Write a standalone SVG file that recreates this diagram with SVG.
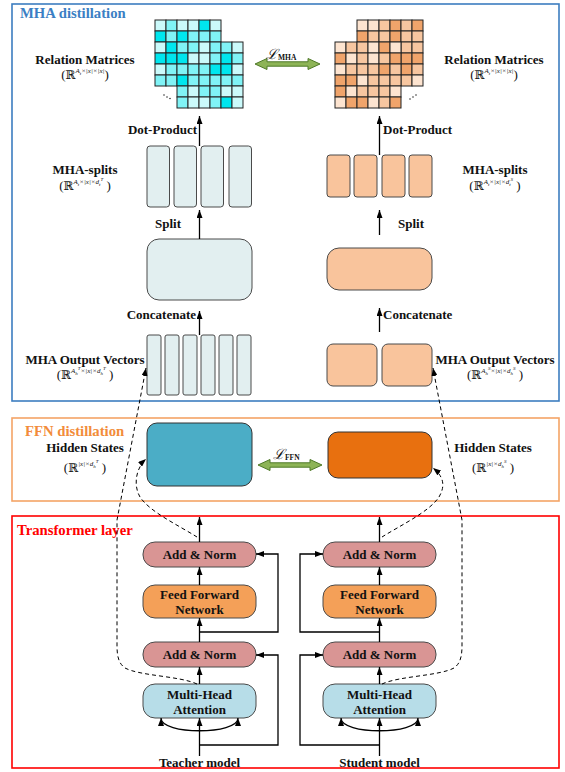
<svg xmlns="http://www.w3.org/2000/svg" width="565" height="772" viewBox="0 0 565 772">
<style>
.t{font-family:"Liberation Serif","Times New Roman",serif;font-weight:bold;font-size:13px;fill:#111}
.c{text-anchor:middle}
.title{font-family:"Liberation Serif","Times New Roman",serif;font-weight:bold;font-size:14.7px}
.m{font-family:"Liberation Serif","DejaVu Serif",serif;font-size:13px;fill:#111;text-anchor:middle}
.bb{font-family:"DejaVu Serif",serif;font-size:12px}
.sp{font-size:7px;font-style:italic}
.sb{font-size:5px;font-style:italic}
.ln{fill:none;stroke:#000;stroke-width:1.3}
.ar{marker-end:url(#ah)}
.dash{fill:none;stroke:#000;stroke-width:1;stroke-dasharray:4,3;marker-end:url(#ah)}
.tc{fill:#e2eff0;stroke:#4a4a4a;stroke-width:1}
.sc{fill:#f9c49c;stroke:#4a4a4a;stroke-width:1}
.an{fill:#d99594;stroke:#4a4a4a;stroke-width:1}
.ff{fill:#f4a058;stroke:#4a4a4a;stroke-width:1}
.mh{fill:#b7dde8;stroke:#4a4a4a;stroke-width:1}
.B{fill:#00e6ee}.M{fill:#80f3f6}.L{fill:#cbfafb}
.D{fill:#f0a46b}.N{fill:#f7c6a0}.P{fill:#fde4d0}
.grid rect{stroke:#222;stroke-width:1}
.loss{fill:#8db456;stroke:#4f7a28;stroke-width:1}
.lt{font-family:"DejaVu Serif",serif;font-style:italic;font-size:14px;fill:#111}
.ls{font-family:"Liberation Serif",serif;font-size:7.5px;font-weight:bold;fill:#111}
</style>
<defs>
<marker id="ah" markerUnits="userSpaceOnUse" markerWidth="8" markerHeight="6" refX="8" refY="3" orient="auto-start-reverse">
<path d="M0,0 L8,3 L0,6 z" fill="#000"/>
</marker>
</defs>

<!-- section frames -->
<g id="mha-section">
<rect x="12" y="4" width="547" height="397" fill="none" stroke="#3c7dc0" stroke-width="1.6"/>
<text class="title" x="20" y="18" fill="#3b7fc4">MHA distillation</text>
</g>
<g id="ffn-section">
<rect x="12" y="418" width="547" height="83" fill="none" stroke="#f4a466" stroke-width="1.6"/>
<text class="title" x="25" y="436" fill="#f28c3a">FFN distillation</text>
</g>
<g id="transformer-section">
<rect x="12" y="516" width="547" height="252" fill="none" stroke="#ff0000" stroke-width="1.6"/>
<text class="title" x="17" y="535" fill="#ff0000">Transformer layer</text>
</g>

<!-- teacher relation matrices -->
<g id="teacher-relation" class="grid">
<rect class="L" x="155" y="20" width="11" height="11"/><rect class="M" x="166" y="20" width="11" height="11"/><rect class="L" x="177" y="20" width="11" height="11"/><rect class="L" x="188" y="20" width="11" height="11"/><rect class="B" x="199" y="20" width="11" height="11"/><rect class="L" x="210" y="20" width="11" height="11"/>
<rect class="B" x="155" y="31" width="11" height="11"/><rect class="M" x="166" y="31" width="11" height="11"/><rect class="B" x="177" y="31" width="11" height="11"/><rect class="M" x="188" y="31" width="11" height="11"/><rect class="M" x="199" y="31" width="11" height="11"/><rect class="M" x="210" y="31" width="11" height="11"/>
<rect class="L" x="155" y="42" width="11" height="11"/><rect class="B" x="166" y="42" width="11" height="11"/>
<rect class="B" x="155" y="53" width="11" height="11"/><rect class="B" x="166" y="53" width="11" height="11"/>
<rect class="L" x="155" y="64" width="11" height="11"/><rect class="M" x="166" y="64" width="11" height="11"/>
<rect class="M" x="155" y="75" width="11" height="11"/><rect class="M" x="166" y="75" width="11" height="11"/>
<rect class="M" x="177" y="42" width="11" height="11"/><rect class="M" x="188" y="42" width="11" height="11"/><rect class="L" x="199" y="42" width="11" height="11"/><rect class="M" x="210" y="42" width="11" height="11"/><rect class="M" x="221" y="42" width="11" height="11"/><rect class="L" x="232" y="42" width="11" height="11"/>
<rect class="B" x="177" y="53" width="11" height="11"/><rect class="L" x="188" y="53" width="11" height="11"/><rect class="L" x="199" y="53" width="11" height="11"/><rect class="M" x="210" y="53" width="11" height="11"/><rect class="B" x="221" y="53" width="11" height="11"/><rect class="M" x="232" y="53" width="11" height="11"/>
<rect class="M" x="177" y="64" width="11" height="11"/><rect class="M" x="188" y="64" width="11" height="11"/><rect class="M" x="199" y="64" width="11" height="11"/><rect class="B" x="210" y="64" width="11" height="11"/><rect class="B" x="221" y="64" width="11" height="11"/><rect class="L" x="232" y="64" width="11" height="11"/>
<rect class="B" x="177" y="75" width="11" height="11"/><rect class="M" x="188" y="75" width="11" height="11"/><rect class="M" x="199" y="75" width="11" height="11"/><rect class="M" x="210" y="75" width="11" height="11"/><rect class="M" x="221" y="75" width="11" height="11"/><rect class="M" x="232" y="75" width="11" height="11"/>
<rect class="M" x="177" y="86" width="11" height="11"/><rect class="L" x="188" y="86" width="11" height="11"/><rect class="M" x="199" y="86" width="11" height="11"/><rect class="M" x="210" y="86" width="11" height="11"/><rect class="L" x="221" y="86" width="11" height="11"/><rect class="L" x="232" y="86" width="11" height="11"/>
<rect class="M" x="177" y="97" width="11" height="11"/><rect class="L" x="188" y="97" width="11" height="11"/><rect class="L" x="199" y="97" width="11" height="11"/><rect class="M" x="210" y="97" width="11" height="11"/><rect class="B" x="221" y="97" width="11" height="11"/><rect class="L" x="232" y="97" width="11" height="11"/>
<circle cx="164" cy="95" r="0.8" fill="#333" stroke="none"/><circle cx="167" cy="97" r="0.8" fill="#333" stroke="none"/><circle cx="170" cy="98.5" r="0.8" fill="#333" stroke="none"/>
</g>

<!-- student relation matrices -->
<g id="student-relation" class="grid">
<rect class="P" x="357" y="20" width="11" height="11"/><rect class="P" x="368" y="20" width="11" height="11"/><rect class="N" x="379" y="20" width="11" height="11"/><rect class="D" x="390" y="20" width="11" height="11"/><rect class="N" x="401" y="20" width="11" height="11"/><rect class="D" x="412" y="20" width="11" height="11"/>
<rect class="D" x="357" y="31" width="11" height="11"/><rect class="N" x="368" y="31" width="11" height="11"/><rect class="N" x="379" y="31" width="11" height="11"/><rect class="D" x="390" y="31" width="11" height="11"/><rect class="N" x="401" y="31" width="11" height="11"/><rect class="N" x="412" y="31" width="11" height="11"/>
<rect class="N" x="401" y="42" width="11" height="11"/><rect class="N" x="412" y="42" width="11" height="11"/>
<rect class="D" x="401" y="53" width="11" height="11"/><rect class="D" x="412" y="53" width="11" height="11"/>
<rect class="D" x="401" y="64" width="11" height="11"/><rect class="N" x="412" y="64" width="11" height="11"/>
<rect class="N" x="401" y="75" width="11" height="11"/><rect class="P" x="412" y="75" width="11" height="11"/>
<rect class="P" x="335" y="42" width="11" height="11"/><rect class="N" x="346" y="42" width="11" height="11"/><rect class="N" x="357" y="42" width="11" height="11"/><rect class="P" x="368" y="42" width="11" height="11"/><rect class="D" x="379" y="42" width="11" height="11"/><rect class="P" x="390" y="42" width="11" height="11"/>
<rect class="D" x="335" y="53" width="11" height="11"/><rect class="P" x="346" y="53" width="11" height="11"/><rect class="N" x="357" y="53" width="11" height="11"/><rect class="P" x="368" y="53" width="11" height="11"/><rect class="N" x="379" y="53" width="11" height="11"/><rect class="D" x="390" y="53" width="11" height="11"/>
<rect class="P" x="335" y="64" width="11" height="11"/><rect class="N" x="346" y="64" width="11" height="11"/><rect class="N" x="357" y="64" width="11" height="11"/><rect class="N" x="368" y="64" width="11" height="11"/><rect class="D" x="379" y="64" width="11" height="11"/><rect class="N" x="390" y="64" width="11" height="11"/>
<rect class="D" x="335" y="75" width="11" height="11"/><rect class="D" x="346" y="75" width="11" height="11"/><rect class="P" x="357" y="75" width="11" height="11"/><rect class="N" x="368" y="75" width="11" height="11"/><rect class="N" x="379" y="75" width="11" height="11"/><rect class="N" x="390" y="75" width="11" height="11"/>
<rect class="D" x="335" y="86" width="11" height="11"/><rect class="P" x="346" y="86" width="11" height="11"/><rect class="N" x="357" y="86" width="11" height="11"/><rect class="N" x="368" y="86" width="11" height="11"/><rect class="N" x="379" y="86" width="11" height="11"/><rect class="P" x="390" y="86" width="11" height="11"/>
<rect class="P" x="335" y="97" width="11" height="11"/><rect class="D" x="346" y="97" width="11" height="11"/><rect class="D" x="357" y="97" width="11" height="11"/><rect class="P" x="368" y="97" width="11" height="11"/><rect class="N" x="379" y="97" width="11" height="11"/><rect class="D" x="390" y="97" width="11" height="11"/>
<circle cx="410" cy="99" r="0.8" fill="#333" stroke="none"/><circle cx="413" cy="97" r="0.8" fill="#333" stroke="none"/><circle cx="416" cy="95" r="0.8" fill="#333" stroke="none"/>
</g>

<!-- loss arrows -->
<g id="loss-mha">
<polygon class="loss" points="255,64 267,58.5 267,61.8 308,61.8 308,58.5 320,64 308,69.5 308,66.2 267,66.2 267,69.5"/>
<text x="266" y="59"><tspan class="lt">ℒ</tspan><tspan class="ls" dy="1">MHA</tspan></text>
</g>
<g id="loss-ffn">
<polygon class="loss" points="258,465 270,459.5 270,462.8 310,462.8 310,459.5 322,465 310,470.5 310,467.2 270,467.2 270,470.5"/>
<text x="273" y="459"><tspan class="lt">ℒ</tspan><tspan class="ls" dy="1">FFN</tspan></text>
</g>

<!-- teacher MHA splits -->
<g id="teacher-splits">
<rect class="tc" x="147" y="146" width="22.5" height="61" rx="3"/>
<rect class="tc" x="174" y="146" width="22.5" height="61" rx="3"/>
<rect class="tc" x="201" y="146" width="22.5" height="61" rx="3"/>
<rect class="tc" x="229" y="146" width="22.5" height="61" rx="3"/>
</g>
<g id="teacher-concat"><rect class="tc" x="147" y="239" width="105" height="61" rx="12"/></g>
<g id="teacher-outputs">
<rect class="tc" x="147" y="335" width="14" height="60" rx="2"/>
<rect class="tc" x="165" y="335" width="14" height="60" rx="2"/>
<rect class="tc" x="183" y="335" width="14" height="60" rx="2"/>
<rect class="tc" x="201" y="335" width="14" height="60" rx="2"/>
<rect class="tc" x="219" y="335" width="14" height="60" rx="2"/>
<rect class="tc" x="237" y="335" width="14" height="60" rx="2"/>
</g>

<!-- student MHA -->
<g id="student-splits">
<rect class="sc" x="327" y="155" width="23" height="42" rx="3"/>
<rect class="sc" x="354" y="155" width="23" height="42" rx="3"/>
<rect class="sc" x="382" y="155" width="23" height="42" rx="3"/>
<rect class="sc" x="409" y="155" width="23" height="42" rx="3"/>
</g>
<g id="student-concat"><rect class="sc" x="327" y="248" width="105" height="42" rx="12"/></g>
<g id="student-outputs">
<rect class="sc" x="327" y="344" width="50" height="42" rx="6"/>
<rect class="sc" x="382" y="344" width="50" height="42" rx="6"/>
</g>

<!-- hidden states -->
<g id="teacher-hidden"><rect x="147" y="423" width="105" height="63" rx="10" fill="#4badc6" stroke="#333" stroke-width="1"/></g>
<g id="student-hidden"><rect x="328" y="432" width="104" height="46" rx="10" fill="#e8700f" stroke="#333" stroke-width="1"/></g>

<!-- labels -->
<g id="labels">
<text class="t c" x="85" y="64">Relation Matrices</text>
<text class="m" x="85" y="79">(<tspan class="bb">ℝ</tspan><tspan class="sp" dy="-6">A</tspan><tspan class="sb" dy="2">t</tspan><tspan class="sp" dy="-2">×|x|×|x|</tspan><tspan dy="6">)</tspan></text>
<text class="t c" x="494" y="64">Relation Matrices</text>
<text class="m" x="494" y="79">(<tspan class="bb">ℝ</tspan><tspan class="sp" dy="-6">A</tspan><tspan class="sb" dy="2">t</tspan><tspan class="sp" dy="-2">×|x|×|x|</tspan><tspan dy="6">)</tspan></text>
<text class="t" x="197" y="134" text-anchor="end">Dot-Product</text>
<text class="t" x="383" y="134">Dot-Product</text>
<text class="t c" x="85" y="174">MHA-splits</text>
<text class="m" x="85" y="190">(<tspan class="bb">ℝ</tspan><tspan class="sp" dy="-6">A</tspan><tspan class="sb" dy="2">t</tspan><tspan class="sp" dy="-2">×|x|×d</tspan><tspan class="sb" dy="2">t</tspan><tspan class="sb" dy="-5">T</tspan><tspan dy="9"> )</tspan></text>
<text class="t c" x="495" y="174">MHA-splits</text>
<text class="m" x="495" y="190">(<tspan class="bb">ℝ</tspan><tspan class="sp" dy="-6">A</tspan><tspan class="sb" dy="2">t</tspan><tspan class="sp" dy="-2">×|x|×d</tspan><tspan class="sb" dy="2">t</tspan><tspan class="sb" dy="-5">S</tspan><tspan dy="9"> )</tspan></text>
<text class="t" x="155" y="228">Split</text>
<text class="t" x="398" y="228">Split</text>
<text class="t" x="196" y="319" text-anchor="end">Concatenate</text>
<text class="t" x="383" y="319">Concatenate</text>
<text class="t c" x="85" y="364">MHA Output Vectors</text>
<text class="m" x="85" y="379">(<tspan class="bb">ℝ</tspan><tspan class="sp" dy="-6">A</tspan><tspan class="sb" dy="2">h</tspan><tspan class="sb" dy="-5">T</tspan><tspan class="sp" dy="3">×|x|×d</tspan><tspan class="sb" dy="2">h</tspan><tspan class="sb" dy="-5">T</tspan><tspan dy="9"> )</tspan></text>
<text class="t c" x="495" y="364">MHA Output Vectors</text>
<text class="m" x="495" y="379">(<tspan class="bb">ℝ</tspan><tspan class="sp" dy="-6">A</tspan><tspan class="sb" dy="2">h</tspan><tspan class="sb" dy="-5">S</tspan><tspan class="sp" dy="3">×|x|×d</tspan><tspan class="sb" dy="2">h</tspan><tspan class="sb" dy="-5">S</tspan><tspan dy="9"> )</tspan></text>
<text class="t c" x="85" y="452">Hidden States</text>
<text class="m" x="85" y="472">(<tspan class="bb">ℝ</tspan><tspan class="sp" dy="-6">|x|×d</tspan><tspan class="sb" dy="2">h</tspan><tspan class="sb" dy="-5">T</tspan><tspan dy="9"> )</tspan></text>
<text class="t c" x="493" y="452">Hidden States</text>
<text class="m" x="493" y="472">(<tspan class="bb">ℝ</tspan><tspan class="sp" dy="-6">|x|×d</tspan><tspan class="sb" dy="2">h</tspan><tspan class="sb" dy="-5">S</tspan><tspan dy="9"> )</tspan></text>
<text class="t c" x="199.5" y="767">Teacher model</text>
<text class="t c" x="379.5" y="767">Student model</text>
</g>

<!-- transformer teacher -->
<g id="t-addnorm1"><rect class="an" x="143" y="542" width="113" height="25" rx="12"/><text class="t c" x="199.5" y="559">Add &amp; Norm</text></g>
<g id="t-ffn"><rect class="ff" x="143" y="585" width="113" height="33" rx="12"/><text class="t c" x="199.5" y="599">Feed Forward</text><text class="t c" x="199.5" y="614">Network</text></g>
<g id="t-addnorm2"><rect class="an" x="143" y="642" width="113" height="25" rx="12"/><text class="t c" x="199.5" y="659">Add &amp; Norm</text></g>
<g id="t-mha"><rect class="mh" x="143" y="684" width="113" height="34" rx="12"/><text class="t c" x="199.5" y="699">Multi-Head</text><text class="t c" x="199.5" y="714">Attention</text></g>

<!-- transformer student -->
<g id="s-addnorm1"><rect class="an" x="323" y="542" width="113" height="25" rx="12"/><text class="t c" x="379.5" y="559">Add &amp; Norm</text></g>
<g id="s-ffn"><rect class="ff" x="323" y="585" width="113" height="33" rx="12"/><text class="t c" x="379.5" y="599">Feed Forward</text><text class="t c" x="379.5" y="614">Network</text></g>
<g id="s-addnorm2"><rect class="an" x="323" y="642" width="113" height="25" rx="12"/><text class="t c" x="379.5" y="659">Add &amp; Norm</text></g>
<g id="s-mha"><rect class="mh" x="323" y="684" width="113" height="34" rx="12"/><text class="t c" x="379.5" y="699">Multi-Head</text><text class="t c" x="379.5" y="714">Attention</text></g>

<!-- connectors -->
<g id="connectors">
<path class="ln ar" d="M199.5,146 V116"/>
<path class="ln ar" d="M199.5,239 V210"/>
<path class="ln ar" d="M199.5,335 V311"/>
<path class="ln ar" d="M379.5,155 V116"/>
<path class="ln ar" d="M379.5,235 V210"/>
<path class="ln ar" d="M379.5,332 V308"/>

<path class="ln ar" d="M199.5,756 V718"/>
<path class="ln ar" d="M199.5,745 H278 V655 H256"/>
<path class="ln" d="M161,718 C161,735 238,735 238,718" marker-start="url(#ah)" marker-end="url(#ah)"/>
<path class="ln ar" d="M199.5,684 V667"/>
<path class="ln ar" d="M199.5,642 V618"/>
<path class="ln ar" d="M199.5,632 H278 V554 H256"/>
<path class="ln ar" d="M199.5,585 V567"/>
<path class="ln ar" d="M199.5,542 V517"/>

<path class="ln ar" d="M379.5,756 V718"/>
<path class="ln ar" d="M379.5,745 H300 V655 H323"/>
<path class="ln" d="M341,718 C341,735 418,735 418,718" marker-start="url(#ah)" marker-end="url(#ah)"/>
<path class="ln ar" d="M379.5,684 V667"/>
<path class="ln ar" d="M379.5,642 V618"/>
<path class="ln ar" d="M379.5,632 H300 V554 H323"/>
<path class="ln ar" d="M379.5,585 V567"/>
<path class="ln ar" d="M379.5,542 V517"/>

<path class="dash" d="M197,537 C178,525 150,512 140,497 C133,485 136,468 146,459"/>
<path class="dash" d="M197,684 C180,676 140,676 125,668 C118,663 117,655 117,645 L117,520 L146,368"/>
<path class="dash" d="M382,537 C401,525 429,512 439,497 C446,485 443,476 433,468"/>
<path class="dash" d="M382,684 C399,676 439,676 454,668 C461,663 462,655 462,645 L462,520 L433,368"/>
</g>
</svg>
